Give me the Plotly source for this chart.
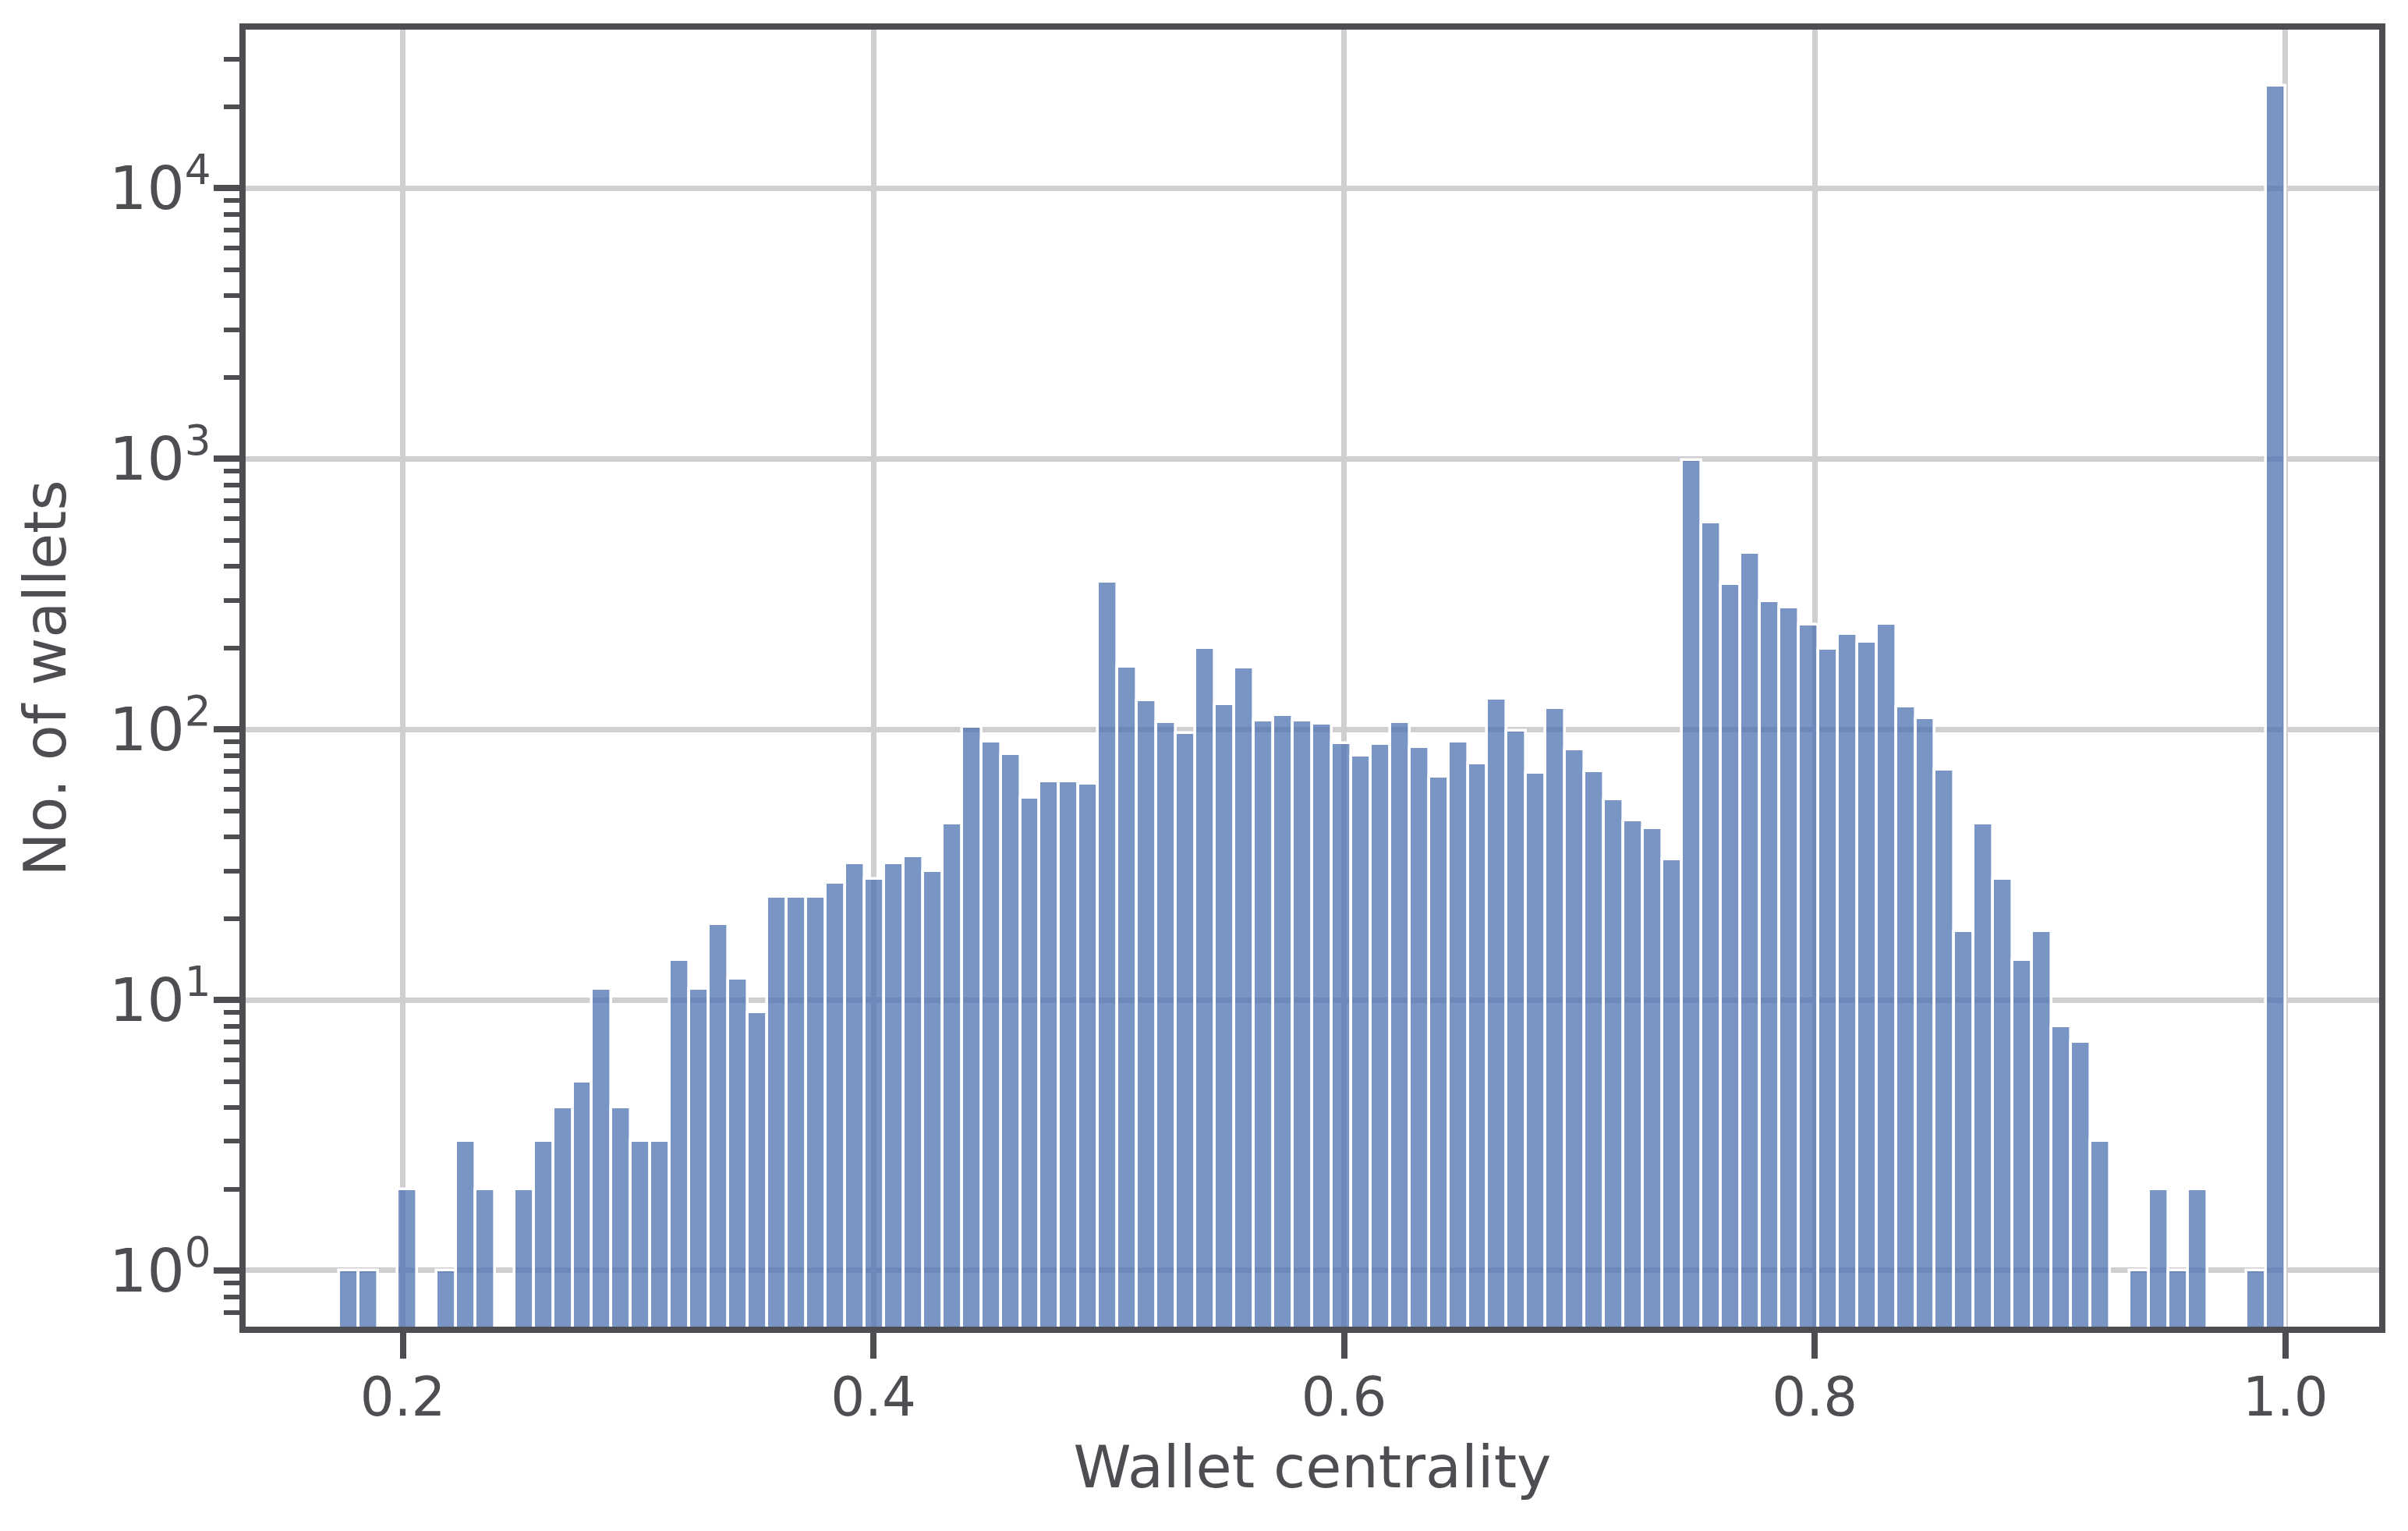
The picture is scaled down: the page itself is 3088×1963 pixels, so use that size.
import numpy as np
import plotly.graph_objects as go

# ---- data (histogram of wallet centrality, 100 equal bins) ----
bin_start = 0.173
bin_end = 1.0
n_bins = 100
counts = [
    1, 1, 0, 2, 0, 1, 3, 2, 0, 2,
    3, 4, 5, 11, 4, 3, 3, 14, 11, 19,
    12, 9, 24, 24, 24, 27, 32, 28, 32, 34,
    30, 45, 102, 90, 81, 56, 64, 64, 63, 350,
    170, 128, 106, 97, 200, 124, 169, 108, 113, 108,
    105, 89, 80, 88, 106, 86, 67, 90, 75, 130,
    99, 69, 120, 84, 70, 55, 46, 43, 33, 990,
    580, 345, 448, 297, 282, 244, 199, 225, 210, 245,
    121, 110, 71, 18, 45, 28, 14, 18, 8, 7,
    3, 0, 1, 2, 1, 2, 0, 0, 1, 24000,
]
x_tick_vals = [0.2, 0.4, 0.6, 0.8, 1.0]
x_tick_text = ["0.2", "0.4", "0.6", "0.8", "1.0"]
y_tick_vals = [1, 10, 100, 1000, 10000]
y_tick_text = ["10<sup>0</sup>", "10<sup>1</sup>", "10<sup>2</sup>", "10<sup>3</sup>", "10<sup>4</sup>"]
y_minor_vals = [m * 10 ** e for e in range(-1, 5) for m in range(2, 10)]

x_title = "Wallet centrality"
y_title = "No. of wallets"

# ---- derived ----
edges = np.linspace(bin_start, bin_end, n_bins + 1)
centers = (edges[:-1] + edges[1:]) / 2
bin_w = edges[1] - edges[0]
y_vals = [c if c > 0 else None for c in counts]

INK = "#4d4e52"
GRID = "#cfcfd1"
FONT = "DejaVu Sans"

fig = go.Figure(
    go.Bar(
        x=centers,
        y=y_vals,
        width=bin_w,
        marker=dict(color="rgba(76,114,176,0.75)", line=dict(color="white", width=3.6)),
        showlegend=False,
    )
)

# page body has an 8px default margin; size the figure to fit the window
fig.update_layout(
    width=3072,
    height=1947,
    margin=dict(l=307, r=29, t=30, b=254, autoexpand=False),
    paper_bgcolor="white",
    plot_bgcolor="white",
    font=dict(family=FONT, color=INK, size=69),
    bargap=0,
)

fig.update_xaxes(
    range=[0.13323, 1.03986],
    tickmode="array",
    tickvals=x_tick_vals,
    ticktext=x_tick_text,
    ticks="outside",
    ticklen=33,
    tickwidth=8,
    tickcolor=INK,
    tickfont=dict(family=FONT, size=69, color=INK),
    ticklabelstandoff=-10,
    showline=True,
    linewidth=8.3,
    linecolor=INK,
    mirror=True,
    showgrid=True,
    gridcolor=GRID,
    gridwidth=7,
    zeroline=False,
    title=dict(text=x_title, font=dict(family=FONT, size=75, color=INK), standoff=28),
)

fig.update_yaxes(
    type="log",
    range=[-0.2076, 4.5864],
    tickmode="array",
    tickvals=y_tick_vals,
    ticktext=y_tick_text,
    ticks="outside",
    ticklen=33,
    tickwidth=8,
    tickcolor=INK,
    tickfont=dict(family=FONT, size=76, color=INK),
    ticklabelstandoff=-12,
    minor=dict(
        tickmode="array",
        tickvals=y_minor_vals,
        ticks="outside",
        ticklen=20,
        tickwidth=6,
        tickcolor=INK,
        showgrid=False,
    ),
    showline=True,
    linewidth=8.3,
    linecolor=INK,
    mirror=True,
    showgrid=True,
    gridcolor=GRID,
    gridwidth=7,
    zeroline=False,
    title=dict(text=y_title, font=dict(family=FONT, size=75, color=INK), standoff=34),
)

fig.write_html("out.html")
